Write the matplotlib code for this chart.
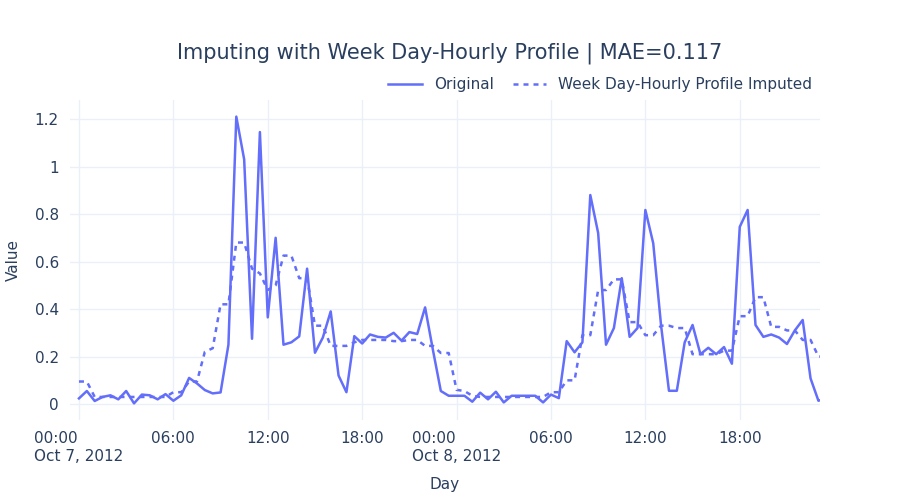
import numpy as np
import matplotlib
matplotlib.use("Agg")
import matplotlib.pyplot as plt

# half-hourly readings, Oct 7 00:00 .. Oct 8 23:30
original = [0.024, 0.055, 0.013, 0.03, 0.037, 0.02, 0.055, 0.003, 0.04, 0.037,
            0.02, 0.042, 0.014, 0.037, 0.11, 0.087, 0.059, 0.045, 0.049, 0.25,
            1.21, 1.03, 0.275, 1.145, 0.365, 0.70, 0.25, 0.26, 0.285, 0.57,
            0.216, 0.28, 0.39, 0.12, 0.05, 0.286, 0.255, 0.293, 0.283, 0.28,
            0.30, 0.267, 0.303, 0.295, 0.407, 0.227, 0.055, 0.035, 0.035, 0.035,
            0.01, 0.048, 0.02, 0.052, 0.007, 0.035, 0.035, 0.035, 0.035, 0.007,
            0.04, 0.025, 0.265, 0.218, 0.26, 0.88, 0.72, 0.25, 0.32, 0.53,
            0.283, 0.32, 0.817, 0.677, 0.33, 0.056, 0.056, 0.26, 0.333, 0.21,
            0.237, 0.21, 0.24, 0.17, 0.746, 0.817, 0.333, 0.283, 0.293, 0.28,
            0.253, 0.31, 0.354, 0.108, 0.014, 0.025]
imputed = [0.095, 0.095, 0.03, 0.03, 0.03, 0.03, 0.03, 0.03, 0.03, 0.03,
           0.03, 0.03, 0.05, 0.05, 0.095, 0.095, 0.22, 0.235, 0.42, 0.42,
           0.68, 0.68, 0.57, 0.55, 0.48, 0.50, 0.625, 0.625, 0.53, 0.53,
           0.33, 0.33, 0.245, 0.245, 0.245, 0.26, 0.27, 0.27, 0.27, 0.27,
           0.265, 0.265, 0.27, 0.27, 0.245, 0.245, 0.215, 0.215, 0.06, 0.055,
           0.035, 0.03, 0.03, 0.03, 0.03, 0.03, 0.03, 0.03, 0.03, 0.03,
           0.05, 0.05, 0.10, 0.10, 0.29, 0.29, 0.48, 0.48, 0.525, 0.525,
           0.345, 0.345, 0.29, 0.29, 0.33, 0.33, 0.32, 0.32, 0.21, 0.21,
           0.21, 0.21, 0.225, 0.225, 0.37, 0.37, 0.45, 0.45, 0.325, 0.325,
           0.31, 0.31, 0.27, 0.27, 0.20, 0.20]
tick_hours = [0, 6, 12, 18, 24, 30, 36, 42]
tick_labels = ["00:00\nOct 7, 2012", "06:00", "12:00", "18:00",
               "00:00\nOct 8, 2012", "06:00", "12:00", "18:00"]
y_ticks = [0, 0.2, 0.4, 0.6, 0.8, 1.0, 1.2]
y_labels = ["0", "0.2", "0.4", "0.6", "0.8", "1", "1.2"]

BLUE = "#636efa"
TXT = "#2a3f5f"
GRID = "#ebf0f8"

hours = np.arange(len(original)) * 0.5

fig = plt.figure(figsize=(9, 5), dpi=100)
ax = fig.add_axes([70 / 900, 80 / 500, 750 / 900, 320 / 500])
ax.plot(hours, original, color=BLUE, lw=1.8, label="Original")
ax.plot(hours, imputed, color=BLUE, lw=1.8, ls=(0, (2, 2)),
        label="Week Day-Hourly Profile Imputed")

ax.set_xlim(-0.57, 47.1)
ax.set_ylim(-0.067, 1.28)
ax.set_xticks(tick_hours)
ax.set_xticklabels(tick_labels, ha="center")
for lbl in ax.get_xticklabels():
    lbl.set_multialignment("left")
ax.set_yticks(y_ticks)
ax.set_yticklabels(y_labels)
ax.grid(color=GRID, lw=1)
ax.set_axisbelow(True)
for s in ax.spines.values():
    s.set_visible(False)
ax.tick_params(length=0, labelsize=11, colors=TXT, pad=8)
ax.set_xlabel("Day", fontsize=11, color=TXT, labelpad=10)
ax.set_ylabel("Value", fontsize=11, color=TXT, labelpad=10)

fig.suptitle("Imputing with Week Day-Hourly Profile | MAE=0.117",
             x=0.5, y=0.915, fontsize=15, color=TXT)
ax.legend(loc="lower right", bbox_to_anchor=(1.0, 1.0), ncol=2, frameon=False,
          fontsize=11, labelcolor=TXT, handlelength=2.2, columnspacing=1.2,
          borderaxespad=0.1)

fig.savefig("out.png", dpi=100)
